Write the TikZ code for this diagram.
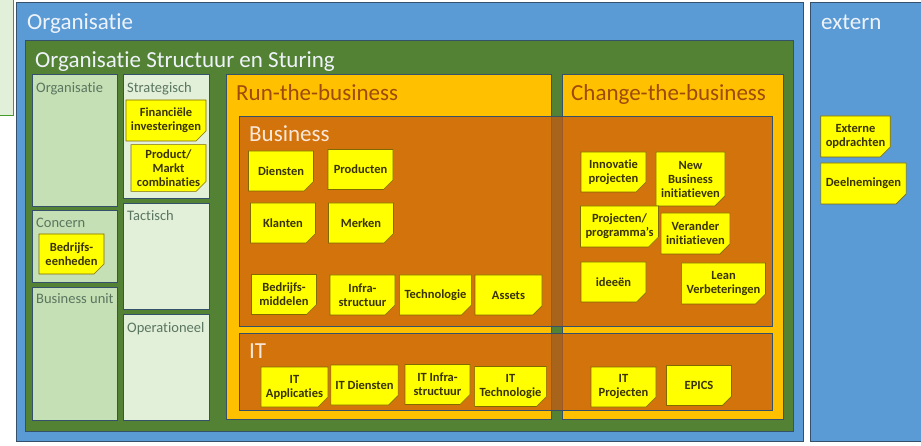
\documentclass[tikz,border=0pt]{standalone}
\usepackage{fontspec}
\setmainfont{Carlito}[Ligatures=NoCommon]
\usetikzlibrary{shapes.misc}

\definecolor{orgblue}{HTML}{5B9BD5}
\definecolor{ossgreen}{HTML}{548235}
\definecolor{colgreen}{HTML}{C5E0B4}
\definecolor{collight}{HTML}{E2F0D9}
\definecolor{rungold}{HTML}{FFC000}
\definecolor{bizorange}{HTML}{C55A11}
\definecolor{runtext}{HTML}{9E4A0B}
\definecolor{titlelight}{HTML}{EEF3FA}
\definecolor{bizlight}{HTML}{FBE8DA}
\definecolor{labgray}{HTML}{5A7560}
\definecolor{boxline}{HTML}{34506A}
\definecolor{noteyellow}{HTML}{FFFF00}
\definecolor{noteline}{HTML}{7F6A00}
\definecolor{notefold}{HTML}{C8C800}
\definecolor{notetext}{HTML}{3A3300}

\tikzset{
  box/.style={draw=boxline, line width=0.8pt},
  bigtitle/.style={anchor=base west, inner sep=0pt, font=\fontsize{23}{26}\selectfont},
  collabel/.style={anchor=base west, inner sep=0pt, text=labgray, font=\fontsize{14.5}{16}\selectfont},
  postit/.style={chamfered rectangle, chamfered rectangle corners=south east,
    chamfered rectangle xsep=5pt, chamfered rectangle ysep=5pt,
    draw=noteline, line width=0.6pt, fill=noteyellow, text=notetext,
    inner sep=0pt, align=center, minimum width=65pt, minimum height=40pt,
    font=\bfseries\fontsize{12.5}{14}\selectfont,
    path picture={\filldraw[fill=notefold, draw=noteline, line width=0.4pt]
      ([xshift=-5pt]path picture bounding box.south east)
      -- ([yshift=5pt]path picture bounding box.south east)
      -- ([xshift=-4pt, yshift=3.5pt]path picture bounding box.south east) -- cycle;}}
}

\begin{document}
\begin{tikzpicture}[x=1pt, y=-1pt]
    \useasboundingbox (0,0) rectangle (921,446);

    % outer frames
    \draw[fill=collight, draw=ossgreen!80!green, line width=0.8pt] (-5,-5) rectangle (13,115);
    \draw[box, fill=orgblue] (16,2) rectangle (803,441);
    \draw[box, fill=orgblue] (810,2) rectangle (926,441);
    \draw[box, fill=ossgreen] (25,40) rectangle (793,431);

    % columns
    \draw[box, fill=colgreen] (32,74) rectangle (117,206);
    \draw[box, fill=colgreen] (32,210) rectangle (117,282);
    \draw[box, fill=colgreen] (32,287) rectangle (117,420);
    \draw[box, fill=collight] (123,74) rectangle (209,198);
    \draw[box, fill=collight] (123,203) rectangle (209,309);
    \draw[box, fill=collight] (123,314) rectangle (209,420);

    % run / change
    \draw[box, fill=rungold] (226,74) rectangle (551,419);
    \draw[box, fill=rungold] (562,74) rectangle (783,419);
    \draw[box, fill=bizorange, fill opacity=0.75] (239,116) rectangle (772,326);
    \draw[box, fill=bizorange, fill opacity=0.75] (239,333) rectangle (772,410);

    % titles
    \node[bigtitle, text=titlelight] (orgtitle) at (27,30) {Organisatie};
    \node[bigtitle, text=titlelight] (exttitle) at (821,30) {extern};
    \node[bigtitle, text=titlelight] (osstitle) at (35,68) {Organisatie Structuur en Sturing};
    \node[bigtitle, text=runtext] (runtitle) at (236,101) {Run-the-business};
    \node[bigtitle, text=runtext] (changetitle) at (571,101) {Change-the-business};
    \node[bigtitle, text=bizlight] (biztitle) at (249,142) {Business};
    \node[bigtitle, text=bizlight] (ittitle) at (249,359) {IT};

    \node[collabel] (orgcol) at (36,93) {Organisatie};
    \node[collabel] (concern) at (36,228) {Concern};
    \node[collabel] (bunit) at (36,304) {Business unit};
    \node[collabel] (strat) at (127,93) {Strategisch};
    \node[collabel] (tact) at (127,221) {Tactisch};
    \node[collabel] (oper) at (127,332) {Operationeel};

    % notes
    \node[postit, minimum width=76pt, minimum height=41pt] (finance) at (166,120.5) {Financiële\\investeringen};
    \node[postit, minimum width=75pt, minimum height=44pt] (pmc) at (168.5,168) {Product/\\Markt\\combinaties};
    \node[postit] (units) at (71.5,254) {Bedrijfs-\\eenheden};

    \node[postit] (diensten) at (281,171) {Diensten};
    \node[postit] (producten) at (360.5,169.5) {Producten};
    \node[postit] (klanten) at (283,223) {Klanten};
    \node[postit] (merken) at (361,223) {Merken};
    \node[postit] (middelen) at (284,294.5) {Bedrijfs-\\middelen};
    \node[postit] (infra) at (362.5,295) {Infra-\\structuur};
    \node[postit] (techno) at (435.5,295) {Technologie};
    \node[postit, minimum width=67pt] (assets) at (508.5,295) {Assets};

    \node[postit] (itapp) at (294.5,387) {IT\\Applicaties};
    \node[postit] (itdiensten) at (364.5,385) {IT Diensten};
    \node[postit] (itinfra) at (437.5,384.5) {IT Infra-\\structuur};
    \node[postit] (ittechno) at (510.5,386.5) {IT\\Technologie};
    \node[postit] (itproj) at (623.5,387) {IT\\Projecten};
    \node[postit] (epics) at (699,385.5) {EPICS};

    \node[postit] (innov) at (613.5,172) {Innovatie\\projecten};
    \node[postit, minimum height=54pt] (newbiz) at (690.5,179) {New\\Business\\initiatieven};
    \node[postit, minimum width=77pt, minimum height=41pt] (progr) at (619.5,226.5) {Projecten/\\programma’s};
    \node[postit, minimum height=41pt] (verander) at (695.5,233.5) {Verander\\initiatieven};
    \node[postit] (ideeen) at (613.5,282) {ideeën};
    \node[postit, minimum width=77pt, minimum height=41pt] (lean) at (723.5,283.5) {Lean\\Verbeteringen};

    \node[postit, minimum height=41pt] (externe) at (855.5,136.5) {Externe\\opdrachten};
    \node[postit, minimum width=81pt, minimum height=41pt] (deelnem) at (863.5,183.5) {Deelnemingen};
\end{tikzpicture}
\end{document}
